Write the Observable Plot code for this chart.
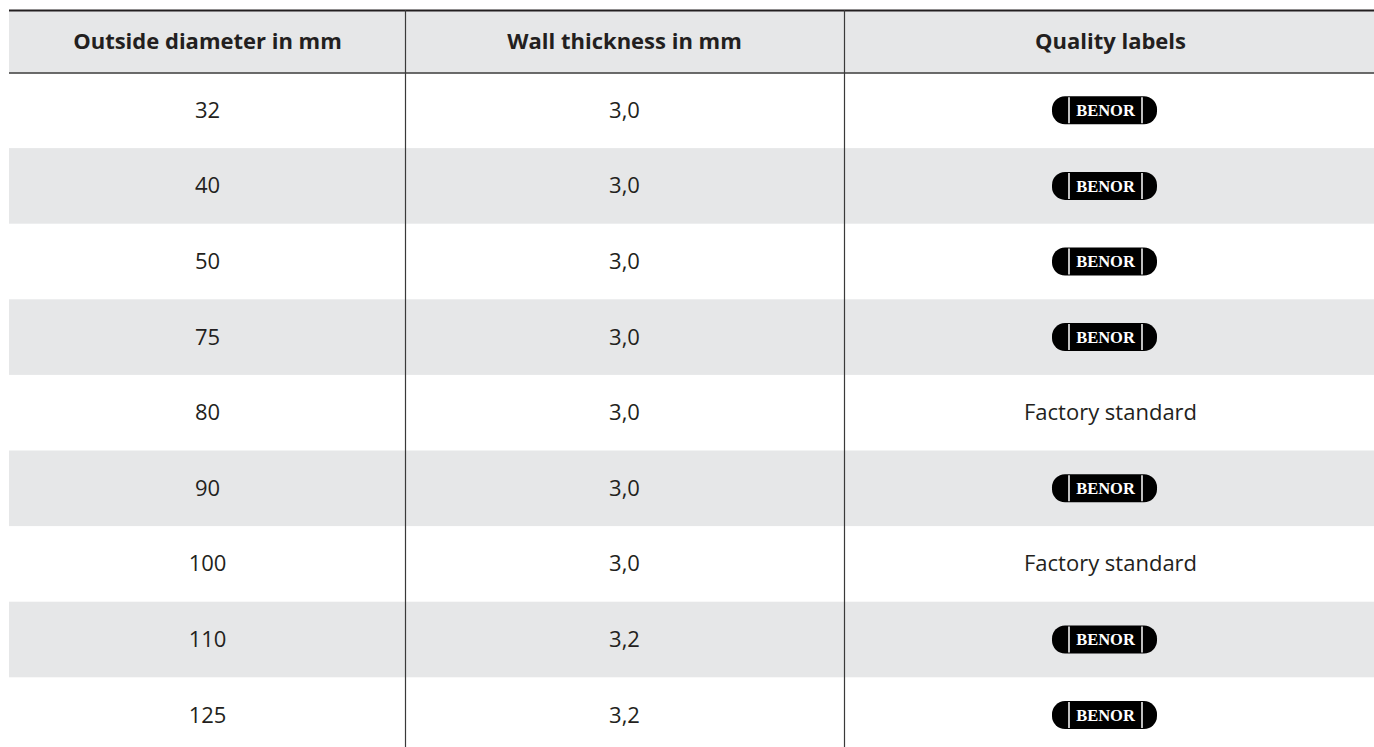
<!DOCTYPE html>
<html>
<head>
<meta charset="utf-8">
<script src="https://cdn.jsdelivr.net/npm/d3@7"></script>
<script src="https://cdn.jsdelivr.net/npm/@observablehq/plot@0.6"></script>
<style>
  html, body { margin: 0; padding: 0; background: #ffffff; }
  #chart svg { display: block; }
</style>
</head>
<body>
<div id="chart"></div>
<script>
// ---- Data ----
const headers = ["Outside diameter in mm", "Wall thickness in mm", "Quality labels"];
const diameters = ["32", "40", "50", "75", "80", "90", "100", "110", "125"];
const wallThickness = ["3,0", "3,0", "3,0", "3,0", "3,0", "3,0", "3,0", "3,2", "3,2"];
const qualityLabels = ["BENOR", "BENOR", "BENOR", "BENOR", "Factory standard", "BENOR", "Factory standard", "BENOR", "BENOR"];

// ---- Layout ----
const W = 1374, H = 747;
const colEdges = [9, 405, 844, 1374];
const colCenters = [207, 624, 1110];
const tableTop = 10;
const headerBottom = 72.5;
const rowH = 75.6;
const shade = "#e6e7e8";
const ink = "#231f20";
const logoCx = 1104.5, logoW = 105, logoH = 28;

const rows = diameters.map((d, i) => ({
  i, d, t: wallThickness[i], q: qualityLabels[i],
  y1: headerBottom + i * rowH,
  y2: headerBottom + (i + 1) * rowH,
  yc: headerBottom + (i + 0.5) * rowH
}));
const shaded = rows.filter(r => r.i % 2 === 1);
const logos = rows.filter(r => r.q === "BENOR");
const texts = rows.filter(r => r.q !== "BENOR");
const headerCells = headers.map((h, j) => ({h, x: colCenters[j]}));

const plot = Plot.plot({
  width: W, height: H,
  margin: 0,
  x: {type: "linear", domain: [0, W], range: [0, W], axis: null},
  y: {type: "linear", domain: [0, H], range: [0, H], axis: null},
  style: {fontFamily: "'Open Sans', sans-serif", background: "#ffffff", color: ink},
  marks: [
    // header background
    Plot.rect([0], {x1: colEdges[0], x2: colEdges[3], y1: tableTop, y2: headerBottom, fill: shade}),
    // shaded rows
    Plot.rect(shaded, {x1: colEdges[0], x2: colEdges[3], y1: "y1", y2: "y2", fill: shade}),
    // horizontal lines
    Plot.ruleY([tableTop], {x1: colEdges[0], x2: colEdges[3], stroke: ink, strokeWidth: 2}),
    Plot.ruleY([headerBottom], {x1: colEdges[0], x2: colEdges[3], stroke: "#3a3a3a", strokeWidth: 1.6}),
    // vertical separators
    Plot.ruleX([colEdges[1], colEdges[2]], {y1: tableTop, y2: H + 10, stroke: "#3a3a3a", strokeWidth: 1.2}),
    // header text
    Plot.text(headerCells, {x: "x", y: (tableTop + headerBottom) / 2, text: "h", fontWeight: 700, fontSize: 22, fill: ink}),
    // body text
    Plot.text(rows, {x: colCenters[0], y: "yc", text: "d", fontSize: 22, fill: ink}),
    Plot.text(rows, {x: colCenters[1], y: "yc", text: "t", fontSize: 22, fill: ink}),
    Plot.text(texts, {x: colCenters[2], y: "yc", text: "q", fontSize: 22, fill: ink}),
    // BENOR logos
    Plot.rect(logos, {x1: logoCx - logoW / 2, x2: logoCx + logoW / 2, y1: r => r.yc - logoH / 2, y2: r => r.yc + logoH / 2, fill: "#000", rx: 13}),
    Plot.ruleX(logos.flatMap(r => [{x: logoCx - 36, r}, {x: logoCx + 37, r}]), {x: "x", y1: d => d.r.yc - logoH / 2 + 1, y2: d => d.r.yc + logoH / 2 - 1, stroke: "#fff", strokeWidth: 1.5}),
    Plot.text(logos, {x: logoCx + 0.5, y: "yc", text: () => "BENOR", fill: "#fff", fontWeight: 700, fontSize: 16.5, fontFamily: "'Liberation Serif', serif"})
  ]
});
document.getElementById("chart").appendChild(plot);
</script>
</body>
</html>
